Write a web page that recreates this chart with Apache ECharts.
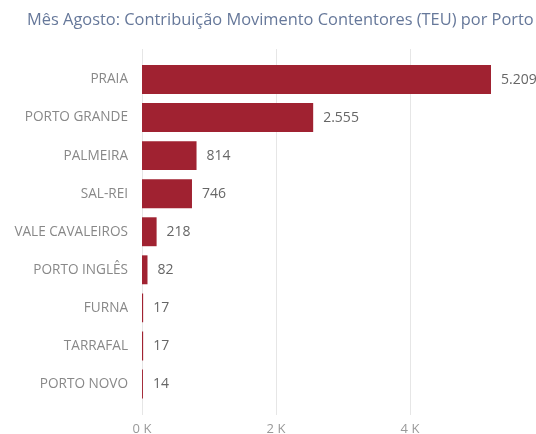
<!DOCTYPE html>
<html>
<head>
<meta charset="utf-8">
<script src="https://cdn.jsdelivr.net/npm/echarts@6/dist/echarts.min.js"></script>
<style>
  html, body { margin: 0; padding: 0; background: #fff; }
  #myChart { width: 536px; height: 434px; }
</style>
</head>
<body>
<div id="myChart"></div>
<script>
// dados do gráfico
const portos = ['PRAIA', 'PORTO GRANDE', 'PALMEIRA', 'SAL-REI', 'VALE CAVALEIROS', 'PORTO INGLÊS', 'FURNA', 'TARRAFAL', 'PORTO NOVO'];
const teu = [5209, 2555, 814, 746, 218, 82, 17, 17, 14];
const titulo = 'Mês Agosto: Contribuição Movimento Contentores (TEU) por Porto';

const fonte = '"Open Sans", sans-serif';
const fmtPt = v => v.toLocaleString('de-DE');

let myChart = echarts.init(document.getElementById('myChart'));
myChart.setOption({
    animation: false,
    title: {
        text: titulo,
        left: 22,
        top: 7,
        textStyle: { fontFamily: fonte, fontSize: 16.4, fontWeight: 'normal', color: '#66789a' }
    },
    grid: [
        // grelha só para as linhas verticais (mais alta que as barras)
        { left: 142, width: 402, top: 49, bottom: 19, outerBoundsMode: 'none' },
        { left: 142, width: 402, top: 60.5, bottom: 31, outerBoundsMode: 'none' }
    ],
    xAxis: [
        {
            gridIndex: 0, type: 'value', min: 0, max: 6000, interval: 2000,
            axisLine: { show: false }, axisTick: { show: false },
            splitLine: { lineStyle: { color: '#e6e6e6', width: 1 } },
            axisLabel: {
                showMaxLabel: false, margin: 8,
                fontFamily: fonte, fontSize: 13, color: '#999',
                formatter: v => (v / 1000) + ' K'
            }
        },
        {
            gridIndex: 1, type: 'value', min: 0, max: 6000, interval: 2000,
            show: false
        }
    ],
    yAxis: [
        { gridIndex: 0, type: 'category', data: portos, show: false, inverse: true },
        {
            gridIndex: 1, type: 'category', data: portos, inverse: true,
            axisLine: { show: false }, axisTick: { show: false },
            axisLabel: { margin: 14, fontFamily: fonte, fontSize: 13.6, color: '#888' }
        }
    ],
    series: [{
        type: 'bar',
        xAxisIndex: 1,
        yAxisIndex: 1,
        data: teu,
        barCategoryGap: '24%',
        itemStyle: { color: '#a02231' },
        label: {
            show: true, position: 'right', distance: 10,
            fontFamily: fonte, fontSize: 14, color: '#666',
            formatter: p => fmtPt(p.value)
        }
    }]
});
</script>
</body>
</html>
